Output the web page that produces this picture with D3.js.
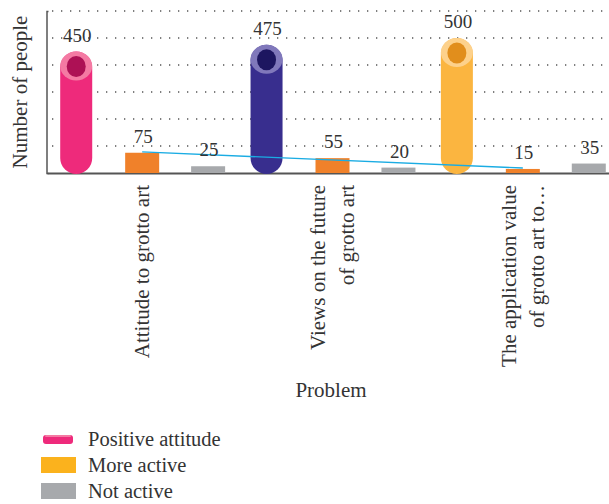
<!DOCTYPE html>
<html><head><meta charset="utf-8">
<script src="https://cdn.jsdelivr.net/npm/d3@7"></script>
<style>body{margin:0;background:#fff}svg{display:block}
.sf{font-family:"Liberation Serif","DejaVu Serif","Times New Roman",Times,serif}</style>
</head><body>
<svg id="c" width="609" height="504"></svg>
<script>
const categories = ["Attitude to grotto art", "Views on the future of grotto art", "The application value of grotto art to…"];
const categoryLines = [["Attitude to grotto art"], ["Views on the future", "of grotto art"], ["The application value", "of grotto art to…"]];
const seriesNames = ["Positive attitude", "More active", "Not active"];
const positiveAttitude = [450, 475, 500];
const moreActive = [75, 55, 15];
const notActive = [25, 20, 35];
const gridTicks = [100, 200, 300, 400, 500, 600];
const cylColors = [
  {body: "#ee2a7b", ring: "#f47aa3", core: "#ad1155"},
  {body: "#382e8e", ring: "#8078bb", core: "#1d1660"},
  {body: "#fbb540", ring: "#fdd18b", core: "#e18e1c"}
];
const orangeColor = "#f0812a", grayColor = "#a7a9ac", trendColor = "#1aace3";
const legendColors = ["#ee2a7b", "#fbb21d", "#a7a9ac"];

const svg = d3.select("#c");
const x = d3.scaleBand().domain(categories).range([47, 618]);
const sub = d3.scalePoint().domain(seriesNames).range([0, x.bandwidth()]).padding(0.443);
const y = d3.scaleLinear().domain([0, 600]).range([173, 11]);

// dotted grid
svg.append("g").selectAll("line").data(gridTicks).join("line")
  .attr("x1", 52).attr("x2", 603).attr("y1", d => y(d)).attr("y2", d => y(d))
  .attr("stroke", "#555").attr("stroke-width", 1.3).attr("stroke-dasharray", "1.3 7.7");

// axes
const yAxis = svg.append("g").attr("transform", "translate(46.5,0)")
  .call(d3.axisLeft(y).tickValues([]).tickSizeOuter(-2));
yAxis.select(".domain").attr("stroke", "#555").attr("stroke-width", 1.5);

const xAxisG = svg.append("g").attr("transform", `translate(0,${y(0)})`)
  .call(d3.axisBottom(x).tickSize(0).tickFormat(""));
xAxisG.select(".domain").attr("stroke", "#555").attr("stroke-width", 2);

// small bars
const bw = 34;
function bars(data, key, color) {
  svg.append("g").selectAll("rect").data(data).join("rect")
    .attr("x", (d, i) => x(categories[i]) + sub(key) - bw / 2)
    .attr("width", bw)
    .attr("y", d => y(d)).attr("height", d => y(0) - y(d))
    .attr("fill", color);
}
bars(moreActive, "More active", orangeColor);
bars(notActive, "Not active", grayColor);

// cylinders
const cw = 32;
const cyl = svg.append("g").selectAll("g").data(positiveAttitude).join("g")
  .attr("transform", (d, i) => `translate(${x(categories[i]) + sub("Positive attitude")},0)`);
cyl.append("rect").attr("x", -cw / 2).attr("width", cw)
  .attr("y", d => y(d)).attr("height", d => y(0) - y(d) + 1)
  .attr("rx", cw / 2).attr("fill", (d, i) => cylColors[i].body);
cyl.append("ellipse").attr("cx", 0).attr("cy", d => y(d) + 14.5).attr("rx", cw / 2).attr("ry", 14.5)
  .attr("fill", (d, i) => cylColors[i].ring);
cyl.append("ellipse").attr("cx", 0).attr("cy", d => y(d) + 15).attr("rx", 9.5).attr("ry", 10.5)
  .attr("fill", (d, i) => cylColors[i].core);

// trend line (least squares on More active)
const n = moreActive.length;
const xs = d3.range(n), mx = d3.mean(xs), my = d3.mean(moreActive);
const slope = d3.sum(xs, i => (i - mx) * (moreActive[i] - my)) / d3.sum(xs, i => (i - mx) ** 2);
const icpt = my - slope * mx;
const cx = i => x(categories[i]) + sub("More active");
svg.append("line")
  .attr("x1", cx(0)).attr("y1", y(icpt))
  .attr("x2", cx(n - 1)).attr("y2", y(icpt + slope * (n - 1)))
  .attr("stroke", trendColor).attr("stroke-width", 1.4);

// value labels
const lbl = svg.append("g").attr("class", "sf").style("font-size", "19px").attr("fill", "#333").attr("text-anchor", "middle");
function labels(data, key) {
  lbl.append("g").selectAll("text").data(data).join("text")
    .attr("x", (d, i) => x(categories[i]) + sub(key) + 1)
    .attr("y", d => y(d) - 10).text(d => d);
}
labels(positiveAttitude, "Positive attitude");
labels(moreActive, "More active");
labels(notActive, "Not active");

// category labels (rotated)
const cat = svg.append("g").attr("class", "sf").style("font-size", "21px").attr("fill", "#333");
categoryLines.forEach((lines, i) => {
  const cxp = x(categories[i]) + x.bandwidth() / 2;
  const lh = 28.5;
  const off = -(lines.length - 1) * lh / 2;
  const t = cat.append("text").attr("text-anchor", "end")
    .attr("transform", `translate(${cxp},185) rotate(-90)`);
  lines.forEach((ln, j) => {
    t.append("tspan").attr("x", 0).attr("y", off + j * lh + 7).text(ln);
  });
});

// axis titles
svg.append("text").attr("class", "sf").style("font-size", "21px").attr("fill", "#333")
  .attr("text-anchor", "middle").attr("x", 331).attr("y", 397).text("Problem");
svg.append("text").attr("class", "sf").style("font-size", "21px").attr("fill", "#333")
  .attr("text-anchor", "middle").attr("transform", "translate(27,92) rotate(-90)").text("Number of people");

// legend
const lg = svg.append("g").attr("class", "sf").style("font-size", "20.5px").attr("fill", "#333");
const items = lg.selectAll("g").data(seriesNames).join("g")
  .attr("transform", (d, i) => `translate(0,${439 + i * 26})`);
items.each(function (d, i) {
  const g = d3.select(this);
  if (i === 0) {
    g.append("rect").attr("x", 43).attr("y", -4).attr("width", 30).attr("height", 9).attr("rx", 3).attr("fill", legendColors[0]);
    g.append("rect").attr("x", 45).attr("y", -4).attr("width", 26).attr("height", 2).attr("rx", 1).attr("fill", "#f47aa3");
  } else {
    g.append("rect").attr("x", 41).attr("y", -8).attr("width", 35).attr("height", 16).attr("fill", legendColors[i]);
  }
  g.append("text").attr("x", 88).attr("y", 7).text(d);
});
</script>
</body></html>
